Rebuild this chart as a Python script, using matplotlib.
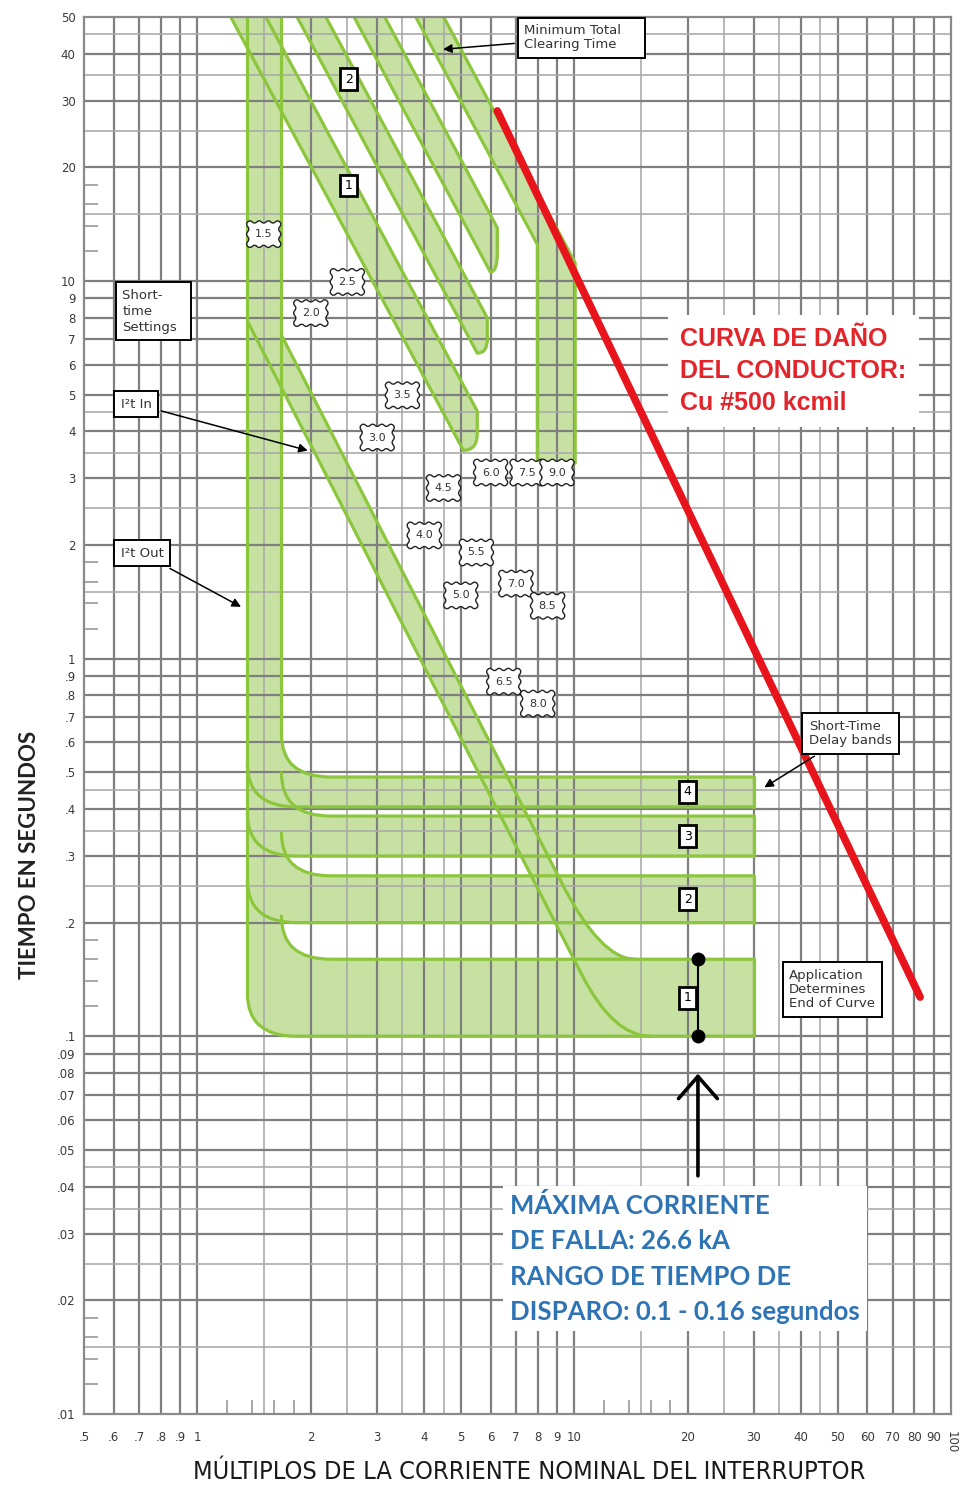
import numpy as np
import matplotlib.pyplot as plt
from matplotlib.path import Path
from matplotlib.patches import PathPatch
from matplotlib.ticker import FixedLocator, NullFormatter

# ---- axes ---------------------------------------------------------------
x_ticks = [0.5, 0.6, 0.7, 0.8, 0.9, 1, 2, 3, 4, 5, 6, 7, 8, 9, 10,
           20, 30, 40, 50, 60, 70, 80, 90, 100]
x_labels = ['.5', '.6', '.7', '.8', '.9', '1', '2', '3', '4', '5', '6', '7',
            '8', '9', '10', '20', '30', '40', '50', '60', '70', '80', '90', '100']
y_ticks = [0.01, 0.02, 0.03, 0.04, 0.05, 0.06, 0.07, 0.08, 0.09,
           0.1, 0.2, 0.3, 0.4, 0.5, 0.6, 0.7, 0.8, 0.9,
           1, 2, 3, 4, 5, 6, 7, 8, 9, 10, 20, 30, 40, 50]
y_labels = ['.01', '.02', '.03', '.04', '.05', '.06', '.07', '.08', '.09',
            '.1', '.2', '.3', '.4', '.5', '.6', '.7', '.8', '.9',
            '1', '2', '3', '4', '5', '6', '7', '8', '9', '10', '20', '30', '40', '50']
minor_steps = [1.2, 1.4, 1.6, 1.8]
grid_steps = [1, 1.5, 2, 2.5, 3, 3.5, 4, 4.5, 5, 6, 7, 8, 9]

# ---- breaker curve ------------------------------------------------------
# long-time pickup band (I2t out edges)
pickup_x = [1.357, 1.671]

# long-time delay bands: left edge (top, lower end) and right edge (top, turn, hook)
lt_left_x = [[1.20, 5.08], [1.80, 5.53], [2.55, 5.99]]
lt_left_t = [[52, 3.56], [52, 6.44], [52, 10.56]]
lt_right_x = [[1.487, 5.53, 5.53], [2.146, 5.88, 5.88], [3.076, 6.25, 6.25]]
lt_right_t = [[52, 4.52, 3.95], [52, 7.98, 7.0], [52, 13.82, 11.8]]
lt_names = ['1', '2']
lt_name_t = [17.9, 34.2]

# short-time pickup 9.0 band
st9_left_x = [3.718, 7.98, 7.98]
st9_left_t = [52, 12.5, 3.29]
st9_right_x = [4.41, 10.06, 10.06]
st9_right_t = [52, 11.16, 3.29]

# short-time delay bands
st_names = ['4', '3', '2', '1']
st_top = [0.486, 0.383, 0.266, 0.16]
st_bottom = [0.405, 0.30, 0.20, 0.10]
st_end = 30

# I2t in ramp (min and max edges)
i2t_lo_x = [1.357, 10.5, 12.7, 16.0]
i2t_lo_t = [7.83, 0.145, 0.10, 0.10]
i2t_hi_x = [1.671, 9.3, 11.76, 14.5]
i2t_hi_t = [7.19, 0.253, 0.16, 0.16]

# short-time pickup setting tags
setting_tags = ['1.5', '2.0', '2.5', '3.0', '3.5', '4.0', '4.5', '5.0',
                '5.5', '6.0', '6.5', '7.0', '7.5', '8.0', '8.5', '9.0']
tag_t = [13.3, 8.22, 9.94, 3.85, 4.98, 2.12, 2.83, 1.47,
         1.91, 3.11, 0.869, 1.58, 3.11, 0.76, 1.38, 3.11]

# conductor damage curve, Cu 500 kcmil
damage_x = [6.25, 82.8]
damage_t = [28.2, 0.127]

# maximum fault current and trip time range
fault_multiple = 21.3
trip_range = [0.10, 0.16]

GREEN = '#8cc63c'
FILL = '#c7e1a3'
LW = 2.3

fig = plt.figure(figsize=(9.61, 14.87), dpi=100)
ax = fig.add_axes([0.0874, 0.0491, 0.9022, 0.9395])
ax.set_xscale('log')
ax.set_yscale('log')
ax.set_xlim(0.5, 100)
ax.set_ylim(0.01, 50)

ax.set_xticks(x_ticks, x_labels)
ax.set_yticks(y_ticks, y_labels)
ax.xaxis.set_minor_locator(FixedLocator([m * d for d in (1, 10) for m in minor_steps]))
ax.yaxis.set_minor_locator(FixedLocator([m * d for d in (0.01, 0.1, 1, 10) for m in minor_steps]))
ax.xaxis.set_minor_formatter(NullFormatter())
ax.yaxis.set_minor_formatter(NullFormatter())
ax.tick_params(which='major', length=0, labelsize=8.5, labelcolor='#3a3a3a')
ax.tick_params(axis='x', which='major', pad=12)
ax.tick_params(axis='y', which='major', pad=6)
ax.tick_params(which='minor', direction='in', length=10, width=1.2, color='#9a9a9a')
ax.get_xticklabels()[-1].set_rotation(-90)
for s in ax.spines.values():
    s.set_color('#8a8a8a')
    s.set_linewidth(1.6)

# log paper grid
def grid_values(decades, lo, hi, skip=()):
    out = []
    for d in decades:
        for m in grid_steps:
            v = round(m * d, 6)
            if lo < v < hi and v not in skip:
                out.append((v, m == int(m)))
    return out

for v, major in grid_values((0.1, 1, 10), 0.5, 100):
    ax.axvline(v, color='#7f7f7f' if major else '#ababab', lw=1.6 if major else 1.2, zorder=1.5)
for v, major in grid_values((0.01, 0.1, 1, 10), 0.01, 50, skip=(0.15,)):
    ax.axhline(v, color='#7f7f7f' if major else '#ababab', lw=1.6 if major else 1.2, zorder=1.5)


def add_path(verts, codes, fill=False, line=True):
    p = Path(verts, codes)
    if fill:
        ax.add_patch(PathPatch(p, facecolor=FILL, edgecolor='none', zorder=1))
    if line:
        ax.add_patch(PathPatch(p, facecolor='none', edgecolor=GREEN, lw=LW,
                               zorder=2.5, joinstyle='round', capstyle='round'))

M, L, C3, CP = Path.MOVETO, Path.LINETO, Path.CURVE3, Path.CLOSEPOLY

# long-time pickup band
x0, x1 = pickup_x
add_path([(x0, 0.13), (x1, 0.13), (x1, 60), (x0, 60), (x0, 0.13)], [M, L, L, L, CP], fill=True, line=False)
add_path([(x0, 60), (x0, 0.13)], [M, L])
add_path([(x1, 60), (x1, 0.632)], [M, L])

# long-time delay bands
for lx, lt, rx, rt in zip(lt_left_x, lt_left_t, lt_right_x, lt_right_t):
    verts = [(lx[0], lt[0]), (lx[1], lt[1]), (rx[1], lt[1]), (rx[2], rt[2]),
             (rx[1], rt[1]), (rx[0], rt[0])]
    codes = [M, L, C3, C3, L, L]
    add_path(verts + [verts[0]], codes + [CP], fill=True, line=False)
    add_path(verts, codes)

# short-time pickup band at 9.0
left9 = list(zip(st9_left_x, st9_left_t))
right9 = list(zip(st9_right_x, st9_right_t))
add_path(left9 + right9[::-1] + [left9[0]], [M] + [L] * 5 + [CP], fill=True, line=False)
add_path(left9, [M, L, L])
add_path(right9, [M, L, L])

# short-time delay bands
R, K = 1.3, 1.35
for top, bot in zip(st_top, st_bottom):
    bottom = [(x0, bot * R), (x0, bot), (x0 * K, bot), (st_end, bot)]
    upper = [(x1, top * R), (x1, top), (x1 * K, top), (st_end, top)]
    codes = [M, C3, C3, L]
    add_path(bottom + upper[::-1] + [bottom[0]],
             [M, C3, C3, L, L, L, C3, C3, CP], fill=True, line=False)
    add_path(bottom, codes)
    add_path(upper, codes)
    add_path([(st_end, bot), (st_end, top)], [M, L])

# I2t in ramp
lo = list(zip(i2t_lo_x, i2t_lo_t))
hi = list(zip(i2t_hi_x, i2t_hi_t))
add_path(lo + hi[::-1] + [lo[0]], [M, L, C3, C3, L, C3, C3, L, CP], fill=True, line=False)
add_path(lo, [M, L, C3, C3])
add_path(hi, [M, L, C3, C3])

# conductor damage curve
ax.plot(damage_x, damage_t, color='#e8141c', lw=5.5, solid_capstyle='round', zorder=4)

# trip range at maximum fault current
ax.plot([fault_multiple] * 2, trip_range, color='black', lw=1.5, marker='o', ms=9, zorder=5)
ax.annotate('', xy=(fault_multiple, 0.081), xytext=(fault_multiple, 0.042),
            arrowprops=dict(arrowstyle='->,head_length=0.8,head_width=0.7', lw=2.6,
                            color='black', mutation_scale=20), zorder=5)

# setting tags
for lab, t in zip(setting_tags, tag_t):
    ax.text(float(lab), t, lab, ha='center', va='center', fontsize=8, color='#333',
            bbox=dict(boxstyle='roundtooth,pad=0.85,tooth_size=0.4', fc='white', ec='#222', lw=1),
            zorder=5)

box = dict(boxstyle='square,pad=0.35', fc='white', ec='black', lw=2)
for lab, t in zip(lt_names, lt_name_t):
    ax.text(2.52, t, lab, ha='center', va='center', fontsize=9, bbox=box, zorder=5)
for lab, top, bot in zip(st_names, st_top, st_bottom):
    ax.text(20, np.sqrt(top * bot), lab, ha='center', va='center', fontsize=9, bbox=box, zorder=5)

note = dict(boxstyle='square,pad=0.5', fc='white', ec='black', lw=1.4)
arrow = dict(arrowstyle='-|>', color='black', lw=1.1, mutation_scale=13)
fs = 9.5
ax.annotate('Minimum Total    \nClearing Time', xy=(4.41, 41.0), xytext=(7.37, 44.0),
            ha='left', va='center', fontsize=fs, color='#333', bbox=note, arrowprops=arrow,
            zorder=5, linespacing=1.1)
ax.text(0.632, 8.32, 'Short-     \ntime\nSettings', ha='left', va='center', fontsize=fs,
        color='#333', bbox=note, zorder=5, linespacing=1.3)
ax.annotate('I²t In', xy=(1.995, 3.54), xytext=(0.625, 4.72), ha='left', va='center',
            fontsize=fs, color='#333', bbox=dict(note, pad=0.15), arrowprops=arrow, zorder=5)
ax.annotate('I²t Out', xy=(1.325, 1.36), xytext=(0.625, 1.90), ha='left', va='center',
            fontsize=fs, color='#333', bbox=dict(note, pad=0.15), arrowprops=arrow, zorder=5)
ax.annotate('Short-Time\nDelay bands', xy=(31.5, 0.452), xytext=(42.0, 0.633),
            ha='left', va='center', fontsize=fs, color='#333', bbox=note, arrowprops=arrow,
            zorder=5, linespacing=1.15)
ax.text(37.2, 0.133, 'Application\nDetermines\nEnd of Curve', ha='left', va='center',
        fontsize=fs, color='#333', bbox=dict(note, pad=0.35), zorder=5, linespacing=1.1)

ax.text(19.14, 7.55, 'CURVA DE DAÑO\nDEL CONDUCTOR:\nCu #500 kcmil', ha='left', va='top',
        color='#e3242b', fontsize=18, fontweight='bold', family='Liberation Sans',
        linespacing=1.42, bbox=dict(fc='white', ec='none', pad=9), zorder=6)
ax.text(6.76, 0.0385, 'MÁXIMA CORRIENTE\nDE FALLA: 26.6 kA\nRANGO DE TIEMPO DE\nDISPARO: 0.1 - 0.16 segundos',
        ha='left', va='top', color='#2e74b5', fontsize=18.5, fontweight='bold', family='Lato',
        linespacing=1.57, bbox=dict(fc='white', ec='none', pad=5), zorder=6)

fig.text(0.031, 1 - 855 / 1487, 'TIEMPO EN SEGUNDOS', rotation=90, ha='center', va='center',
         fontsize=16, fontweight='bold', family='Lato', color='#222')
fig.text(529 / 961, 1 - 1472 / 1487, 'MÚLTIPLOS DE LA CORRIENTE NOMINAL DEL INTERRUPTOR',
         ha='center', va='center', fontsize=18.2, family='DejaVu Sans', fontstretch='condensed',
         color='#1a1a1a')

fig.savefig('out.png', dpi=100, facecolor='white')
